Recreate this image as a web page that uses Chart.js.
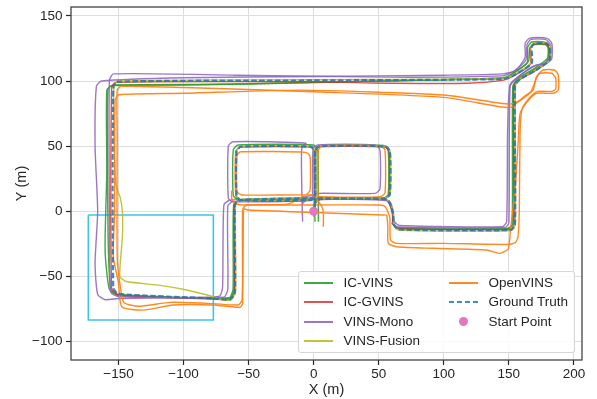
<!DOCTYPE html>
<html>
<head>
<meta charset="utf-8">
<script src="https://cdn.jsdelivr.net/npm/chart.js@4.4.1/dist/chart.umd.min.js"></script>
<style>
  html, body { margin: 0; padding: 0; background: #ffffff; }
  #wrap { position: relative; width: 597px; height: 399px; font-family: "Liberation Sans", Arial, sans-serif; color: #262626; }
  #chart { position: absolute; left: 0; top: 0; }
  #legend { position: absolute; left: 298px; top: 271px; width: 277px; height: 82px;
            border: 1px solid #d6d6d6; border-radius: 3px; background: rgba(255,255,255,0.85); box-sizing: border-box; }
  .item { position: absolute; height: 18px; line-height: 18px; font-size: 13.5px; white-space: nowrap; }
  .sample { position: absolute; top: 8px; width: 29px; height: 2px; }
  .label { position: absolute; top: 0; }
  .dot { position: absolute; top: 4.5px; width: 9px; height: 9px; border-radius: 50%; }
</style>
</head>
<body>
<div id="wrap">
  <canvas id="chart" width="597" height="399"></canvas>
  <div id="legend"></div>
</div>
<script>
// ---- data (metres) ----
const seriesNames = ["IC-VINS", "IC-GVINS", "VINS-Mono", "VINS-Fusion", "OpenVINS", "Ground Truth", "Start Point"];
const xTicks = [-150, -100, -50, 0, 50, 100, 150, 200];
const yTicks = [-100, -50, 0, 50, 100, 150];

const groundTruth = [
  [0,0],[1,5],[1,46],[-2,49.6],[-56,49.6],[-59.2,46],[-59.2,12],[-56,8.6],[-2,8.6],[1,12],[1,46],[4,49.8],
  [55,49.8],[58.6,46],[58.6,13],[55,9.9],[5,9.9],[-56,8.6],[-60.5,5],[-60.5,-62],[-64,-67.8],[-77,-67],
  [-150,-63.5],[-154,-59],[-154,95],[-151,99.5],[0,100.5],[145,101.5],[153,104],[167.5,113.6],[167.5,126],
  [170,129],[179,129],[181.6,126],[181.6,117],[179,114],[171,108.5],[158,101],[154.7,96],[154.7,-10],
  [151.5,-14.4],[65,-14],[61.5,-10],[61,-1.6],[58.6,6],[55,9.3],[5,9.3],[1,6],[0.5,-3]
];
const icGvins = [
  [0,-2],[0.5,5],[0.5,46],[-2.5,49.3],[-56,49.3],[-59.8,46],[-59.8,12],[-56,8.3],[-2,8.3],[0.5,12],[0.5,46],
  [3.5,49.5],[55,49.3],[58,46],[58,13],[55,9.6],[5,9.6],[-56,8.3],[-61,5],[-61,-62],[-64.5,-68],[-77,-67.5],
  [-150,-64.5],[-155.3,-59],[-155.3,95],[-152,99],[0,99.5],[45,98.5],[118,98.3],[145,100.5],[153,103.5],
  [166.5,113],[166.5,126],[169.5,128.5],[178.5,128.5],[181,125.5],[181,117],[178.5,113.5],[170.5,108],
  [157.5,100.5],[154,96],[154,-10],[151,-14],[65,-13.5],[61,-10],[60.5,-1.6],[58,6],[55,9],[5,9],[0.5,6],[0,-4]
];
const icVins = [
  [3.6,-8],[3.6,5],[3.2,46],[0,50.9],[-58,50.9],[-61.8,47],[-61.8,12],[-58,8.8],[-2,9],[1.5,12],[1.8,46],
  [5,50.5],[54,50.5],[57.3,46],[57.3,13],[54,10.2],[5,10.2],[-56,9],[-61.5,5],[-62,-60],[-65,-67],[-77,-67],
  [-150,-65],[-157,-60],[-160.3,-30],[-159,30],[-159,93],[-155,96.5],[-100,97],[0,99],[100,101],[145,102],
  [152,105],[164,114],[164.5,126],[167.5,130],[177,130],[180,127],[180,117],[177,113],[169,108.5],[156,100.5],
  [153.4,95],[153.4,-9],[150,-13],[65,-12.5],[61,-9],[60.5,-1],[58,6.5],[54.5,9.6],[4,9.6],[1,6],[1,-8]
];
const icVinsLap2 = [
  [-61,5],[-61,-60],[-64.5,-66.5],[-150,-64],[-156,-60],[-158,-20],[-158.5,60],[-158,94],[-154,97],[-60,97.5],
  [50,100],[146,102.5],[153,106],[165,115],[166,125],[169,128],[178,128],[180.5,125],[180,118],[177,115],
  [170,110],[157,102],[153,96],[152.5,-10],[149,-13.5],[64,-13],[60,-9]
];
const vinsMono = [
  [-8.5,-8],[-9,10],[-9.2,48],[-6,52.2],[-62,53.4],[-65.6,50],[-65.6,10],[-62,7.3],[-5,8],[-1,11],[-0.5,48],
  [3,51],[47,50.9],[50.9,47],[50.9,17],[47,13.7],[3,13.7],[-2,12],[-20,9],[-64,8.6],[-69,5],[-70,-58],
  [-72,-65],[-80,-66],[-150,-67],[-160,-68],[-166,-64],[-168,-40],[-166,0],[-168,50],[-167,96],[-163,100],
  [-100,102.5],[0,103.5],[100,104.5],[145,105.5],[155,108],[162.4,118],[162.5,129],[166,133],[179,133],
  [183,129],[182.9,117],[179,113.6],[170,112],[158,104],[150.8,97],[149,60],[148.3,-8],[145,-11.9],[66,-11],
  [62,-8],[61,0],[58,8],[-3,9],[-8.5,6],[-8.5,-8]
];
const vinsMonoLap2 = [
  [-62,8],[-66,4],[-66,-60],[-69,-66],[-150,-65.5],[-156,-62],[-157,0],[-157,100],[-154,105.5],[-60,104.5],
  [60,103],[145,104],[153,107],[163,116],[164,128],[167,132],[178,132],[182,128],[181.5,118],[178,114],
  [169,111],[157,103],[151,96],[150,-9],[147,-12.5],[64,-12],[60,-8]
];
const vinsFusion = [
  [0.5,-2],[1.3,5],[1.3,46],[-2,49.9],[-56,49.9],[-59.5,46],[-59.5,12],[-56,8.9],[-2,8.9],[1.3,12],[1.3,46],
  [4.5,50.2],[55,50],[58.8,46],[58.8,13],[55.5,10.3],[5,10.3],[-56,8.9],[-60,5],[-60,-62],[-63.5,-68],
  [-69.5,-68.2],[-77,-65.7],[-97.6,-60.5],[-118,-57],[-144,-54],[-149,-50],[-147,-20],[-147,0],[-148.8,11],
  [-152,20],[-153.5,60],[-153.5,95],[-150.5,100],[0,101],[145,102],[153,104.5],[167,114],[167,126.5],
  [170,129.5],[179,129.5],[182,126.5],[182,117],[179,114],[171,109],[158,101.5],[155,96],[155,-10],
  [152,-14.8],[65,-14.5],[61.8,-10],[61.3,-1.6],[59,6],[55,9.5],[5,9.5],[1.2,6],[1,-3]
];
const openVins = [
  [7.4,-11.9],[7.4,0],[6,4],[3.6,8],[3.6,47],[6.5,50.1],[51,50.1],[54.8,47],[54.8,14],[51,11.1],[6,11.1],
  [-2,12.5],[-55,12.5],[-59,15],[-59,43],[-56,45.7],[-6,45.2],[-2.8,42],[-2.8,16],[-6,12.5],[-20,5.5],
  [-51.5,4.8],[-54.6,1],[-54.6,-70.8],[-56.6,-73.9],[-77,-72],[-108,-72],[-131,-76],[-147.5,-73.4],
  [-150,-55],[-154,-35],[-153,0],[-152.6,85],[-150,89.5],[-100,90.6],[-10,93],[100,89.3],[143,83],
  [152,82.5],[160,86],[167,92],[172,104],[176,108.5],[185,108.5],[188,104.6],[188,93],[184,90.6],[171,90.6],
  [164,84],[158.6,75],[157,50],[155,20],[151,-17],[149.5,-29],[143,-32.4],[133,-29.8],[92,-28.5],
  [63.8,-27.3],[57.3,-24.7],[57,-12],[56,-3],[53,-2.9],[0,-1],[-50,0.9],[-54,2]
];
const openVinsLap2 = [
  [-54,0.9],[-55,-68],[-58,-72],[-77,-71],[-110,-70],[-135,-73],[-146,-70],[-149,-55],[-151,-35],[-151,60],
  [-151,93],[-148,96],[-100,95],[0,91.8],[100,87.5],[143,80.3],[152,80],[157,84],[163,89],[168.6,93],
  [171,103],[174,106],[183,106],[186,102],[186,94],[183,92],[172,92],[165,86],[160,78],[158.6,60],
  [158,0],[157,-20],[155,-24],[150,-25.5],[100,-24.7],[63.8,-24.7],[59,-22],[58.5,-5],[55,3.5],[50,4.8],
  [0,4.8],[-51.5,4.8],[-57,5],[-61,6],[-63,10],[-63,16]
];
const startPoint = [[0,0]];
const highlightBox = [[-173.2,-2.9],[-77.1,-2.9],[-77.1,-83.6],[-173.2,-83.6],[-173.2,-2.9]];

// ---- view ----
const X_MIN = -186.5, X_MAX = 206.2, Y_MIN = -114.3, Y_MAX = 156.9;

const colors = {
  icVins: "rgba(44,160,44,0.9)",
  icGvins: "rgba(214,39,40,0.8)",
  vinsMono: "rgba(148,103,189,0.9)",
  vinsFusion: "rgba(188,189,34,0.9)",
  openVins: "rgba(255,127,14,0.92)",
  gt: "rgba(31,119,180,0.85)",
  start: "#e377c2",
  box: "#3cc4ee"
};

const pts = a => a.map(p => ({x: p[0], y: p[1]}));
function lineSet(data, color, order, extra) {
  return Object.assign({
    type: "scatter", data: pts(data), showLine: true, borderColor: color, backgroundColor: color,
    borderWidth: 1.4, pointRadius: 0, pointHoverRadius: 0, tension: 0.2, order: order
  }, extra || {});
}

const datasets = [
  lineSet(highlightBox, colors.box, 9, {borderWidth: 1.6, tension: 0}),
  lineSet(icVins, colors.icVins, 8),
  lineSet(icVinsLap2, colors.icVins, 8),
  lineSet(icGvins, colors.icGvins, 7),
  lineSet(vinsMono, colors.vinsMono, 6),
  lineSet(vinsMonoLap2, colors.vinsMono, 6),
  lineSet(vinsFusion, colors.vinsFusion, 5),
  lineSet(openVins, colors.openVins, 4),
  lineSet(openVinsLap2, colors.openVins, 4),
  lineSet(groundTruth, colors.gt, 2, {borderWidth: 2.2, borderDash: [5.5, 2.4]}),
  {type: "scatter", data: pts(startPoint), showLine: false, pointRadius: 4.5, pointBackgroundColor: colors.start,
   pointBorderWidth: 0, borderColor: colors.start, order: 1}
];

const fontTick = {family: "'Liberation Sans', Arial, sans-serif", size: 13.5};
const fontTitle = {family: "'Liberation Sans', Arial, sans-serif", size: 14.5};
const fmt = v => (v < 0 ? "\u2212" + Math.abs(v) : String(v));

const framePlugin = {
  id: "frame",
  afterDatasetsDraw(chart) {
    const {ctx, chartArea: a} = chart;
    ctx.save();
    ctx.strokeStyle = "#3d3d3d";
    ctx.lineWidth = 1.25;
    ctx.strokeRect(a.left, a.top, a.right - a.left, a.bottom - a.top);
    ctx.restore();
  }
};

new Chart(document.getElementById("chart"), {
  type: "scatter",
  data: {datasets},
  plugins: [framePlugin],
  options: {
    responsive: false, animation: false, devicePixelRatio: 1,
    layout: {padding: {top: 7, right: 15, left: 0, bottom: 0}},
    plugins: {legend: {display: false}, tooltip: {enabled: false}},
    scales: {
      x: {
        type: "linear", min: X_MIN, max: X_MAX,
        afterBuildTicks: s => { s.ticks = xTicks.map(v => ({value: v})); },
        afterFit: s => { s.height = 39; s.paddingLeft = 0; s.paddingRight = 0; },
        ticks: {font: fontTick, color: "#262626", padding: 1, callback: fmt, maxRotation: 0, autoSkip: false},
        grid: {color: "#dddddd", lineWidth: 1, tickLength: 5, tickColor: "#262626", tickWidth: 1.2},
        border: {display: false},
        title: {display: true, text: "X (m)", font: fontTitle, color: "#262626", padding: {top: 0, bottom: 0}}
      },
      y: {
        type: "linear", min: Y_MIN, max: Y_MAX,
        afterBuildTicks: s => { s.ticks = yTicks.map(v => ({value: v})); },
        afterFit: s => { s.width = 71; s.paddingTop = 0; s.paddingBottom = 0; },
        ticks: {font: fontTick, color: "#262626", padding: 3.5, callback: fmt, autoSkip: false},
        grid: {color: "#dddddd", lineWidth: 1, tickLength: 5, tickColor: "#262626", tickWidth: 1.2},
        border: {display: false},
        title: {display: true, text: "Y (m)", font: fontTitle, color: "#262626", padding: {top: 13, bottom: 0}}
      }
    }
  }
});

// ---- legend (HTML) ----
const legendItems = [
  {name: seriesNames[0], col: 0, row: 0, kind: "line", color: colors.icVins},
  {name: seriesNames[1], col: 0, row: 1, kind: "line", color: colors.icGvins},
  {name: seriesNames[2], col: 0, row: 2, kind: "line", color: colors.vinsMono},
  {name: seriesNames[3], col: 0, row: 3, kind: "line", color: colors.vinsFusion},
  {name: seriesNames[4], col: 1, row: 0, kind: "line", color: colors.openVins},
  {name: seriesNames[5], col: 1, row: 1, kind: "dash", color: colors.gt},
  {name: seriesNames[6], col: 1, row: 2, kind: "dot", color: colors.start}
];
const leg = document.getElementById("legend");
legendItems.forEach(it => {
  const d = document.createElement("div");
  d.className = "item";
  const left = it.col === 0 ? 4.5 : 149.5;
  d.style.left = left + "px";
  d.style.top = (1.5 + it.row * 19.6) + "px";
  const mark = document.createElement("div");
  if (it.kind === "dot") {
    mark.className = "dot";
    mark.style.left = "10px";
    mark.style.background = it.color;
  } else {
    mark.className = "sample";
    mark.style.left = "0px";
    mark.style.background = it.kind === "dash"
      ? "repeating-linear-gradient(90deg, " + it.color + " 0px, " + it.color + " 5.5px, transparent 5.5px, transparent 8px)"
      : it.color;
  }
  d.appendChild(mark);
  const t = document.createElement("span");
  t.className = "label";
  t.style.left = "40px";
  t.textContent = it.name;
  d.appendChild(t);
  leg.appendChild(d);
});
</script>
</body>
</html>
